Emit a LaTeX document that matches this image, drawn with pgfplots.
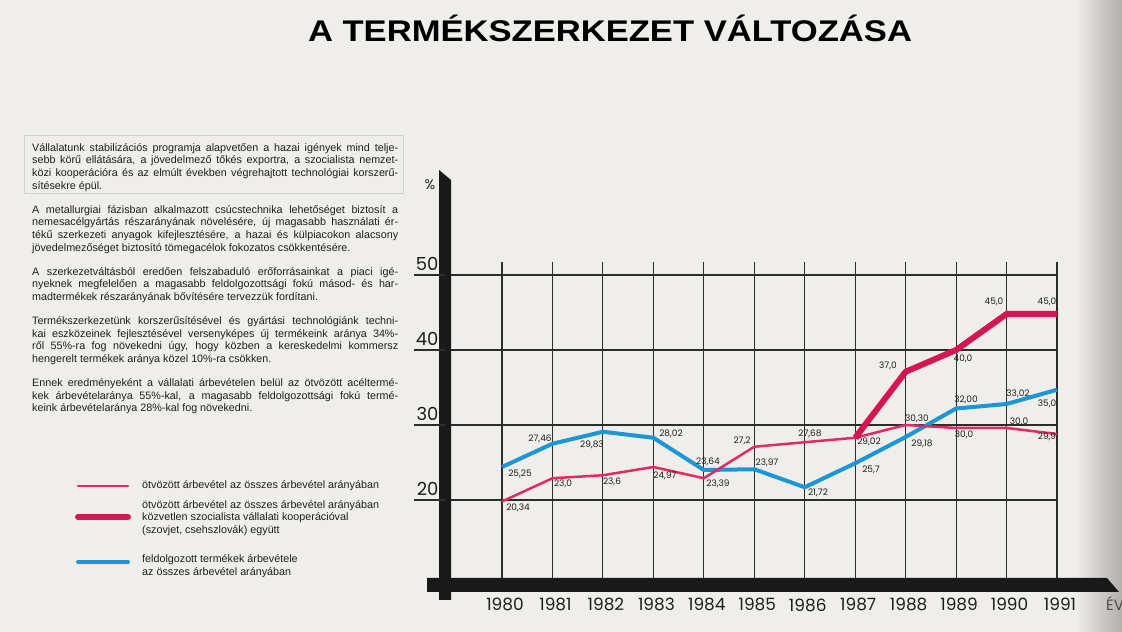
\documentclass[border=0pt]{standalone}
\usepackage{fontspec}
\setmainfont{Liberation Sans}
\newfontfamily\hand{Poppins}
\usepackage{graphicx}
\usepackage{pgfplots}
\pgfplotsset{compat=1.18}
\definecolor{paper}{RGB}{240,238,235}
\definecolor{edge}{RGB}{178,174,170}
\definecolor{ink}{RGB}{30,30,30}
\definecolor{pinkA}{RGB}{226,42,102}
\definecolor{pinkB}{RGB}{214,22,84}
\definecolor{blueA}{RGB}{28,150,212}
\definecolor{gridc}{RGB}{45,45,45}
\newcommand\jl[1]{\makebox[366bp][s]{#1}}
\newcommand\el[1]{\makebox[366bp][l]{#1}}

\pgfplotstableread{
year val
1980 19.8
1981 22.9
1982 23.3
1983 24.4
1984 22.9
1985 27.1
1986 27.7
1987 28.3
1988 30.0
1989 29.6
1990 29.6
1991 28.8
}\thinpink
\pgfplotstableread{
year val
1987 28.3
1988 37.1
1989 40.0
1990 44.8
1991 44.8
}\thickpink
\pgfplotstableread{
year val
1980 24.4
1981 27.5
1982 29.1
1983 28.3
1984 24.0
1985 24.1
1986 21.7
1987 24.9
1988 28.4
1989 32.2
1990 32.8
1991 34.7
}\blueline

\begin{document}
\begin{tikzpicture}[x=1bp,y=1bp]
\useasboundingbox (0,0) rectangle (1122,632);
\fill[paper] (0,0) rectangle (1122,632);
\shade[left color=paper,right color=edge] (1075,0) rectangle (1122,632);

% title
\node[anchor=base, inner sep=0, text=black] at (610,590)
  {\scalebox{1.157}[1]{\fontsize{30}{30}\selectfont\bfseries A TERMÉKSZERKEZET VÁLTOZÁSA}};

% text block
\draw[gray!35, line width=0.8bp] (24,497) rectangle (403,439);
\node[anchor=north west, inner sep=0, align=left, text=ink, font=\fontsize{10.8}{12.8}\selectfont] at (32,489) {%
\jl{Vállalatunk stabilizációs programja alapvetően a hazai igények mind telje-}\\
\jl{sebb körű ellátására, a jövedelmező tőkés exportra, a szocialista nemzet-}\\
\jl{közi kooperációra és az elmúlt években végrehajtott technológiai korszerű-}\\
\el{sítésekre épül.}\\[11bp]
\jl{A metallurgiai fázisban alkalmazott csúcstechnika lehetőséget biztosít a}\\
\jl{nemesacélgyártás részarányának növelésére, új magasabb használati ér-}\\
\jl{tékű szerkezeti anyagok kifejlesztésére, a hazai és külpiacokon alacsony}\\
\el{jövedelmezőséget biztosító tömegacélok fokozatos csökkentésére.}\\[11bp]
\jl{A szerkezetváltásból eredően felszabaduló erőforrásainkat a piaci igé-}\\
\jl{nyeknek megfelelően a magasabb feldolgozottsági fokú másod- és har-}\\
\el{madtermékek részarányának bővítésére tervezzük fordítani.}\\[11bp]
\jl{Termékszerkezetünk korszerűsítésével és gyártási technológiánk techni-}\\
\jl{kai eszközeinek fejlesztésével versenyképes új termékeink aránya 34\%-}\\
\jl{ről 55\%-ra fog növekedni úgy, hogy közben a kereskedelmi kommersz}\\
\el{hengerelt termékek aránya közel 10\%-ra csökken.}\\[11bp]
\jl{Ennek eredményeként a vállalati árbevételen belül az ötvözött acélter\-mé-}\\
\jl{kek árbevételaránya 55\%-kal, a magasabb feldolgozottsági fokú termé-}\\
\el{keink árbevételaránya 28\%-kal fog növekedni.}
};

% legend
\draw[pinkA, line width=2.5bp, line cap=round] (78,146) -- (128,146);
\draw[pinkB, line width=6bp, line cap=round] (78,115) -- (128,115);
\draw[blueA, line width=4bp, line cap=round] (78,70) -- (128,70);
\begin{scope}[every node/.style={anchor=west, inner sep=0, align=left, text=ink, font=\fontsize{10.8}{12.5}\selectfont}]
\node at (142,146) {ötvözött árbevétel az összes árbevétel arányában};
\node at (142,114) {ötvözött árbevétel az összes árbevétel arányában\\közvetlen szocialista vállalati kooperációval\\(szovjet, csehszlovák) együtt};
\node at (142,66) {feldolgozott termékek árbevétele\\az összes árbevétel arányában};
\end{scope}

\begin{axis}[
  at={(445bp,47bp)}, anchor=south west, scale only axis,
  width=612bp, height=323bp,
  xmin=1978.87, xmax=1991, ymin=8.667, ymax=51.733,
  axis line style={draw=none},
  tick style={draw=none},
  xtick={1980,1981,1982,1983,1984,1985,1986,1987,1988,1989,1990,1991},
  xticklabels={1980,1981,1982,1983,1984,1985,1986,1987,1988,1989,1990,1991},
  ytick={20,30,40,50},
  yticklabels={20,30,40,50},
  grid=major,
  major grid style={gridc, line width=1.1bp},
  xticklabel style={font=\hand\fontsize{17}{17}\selectfont, text=ink, anchor=north, yshift=-10bp, xshift=3bp},
  yticklabel style={font=\hand\fontsize{18}{18}\selectfont, text=ink, anchor=south east, xshift=-3bp, yshift=1bp},
  clip=false,
]
\addplot[blueA, line width=4bp, line join=round] table[x=year,y=val] {\blueline};
\addplot[pinkA, line width=2.5bp, line join=round] table[x=year,y=val] {\thinpink};
\addplot[pinkB, line width=6bp, line join=round] table[x=year,y=val] {\thickpink};
\end{axis}

% axis bars
\fill[black!90] (427,54) -- (1107,54) -- (1119,40) -- (427,40) -- cycle;
\fill[black!90] (439,32) -- (451,32) -- (451,452) -- (439,462) -- cycle;
% tick underline extensions
\foreach \yy in {132,207,282,357} \draw[gridc, line width=1.1bp] (414,\yy) -- (445,\yy);

\node[text=ink, font=\hand\fontsize{14}{14}\selectfont] at (430,447) {\%};
\node[text=ink!80, font=\hand\fontsize{15}{15}\selectfont] at (1115,28) {ÉV};

% data labels
\begin{scope}[every node/.style={text=ink, inner sep=0, font=\hand\fontsize{9}{9}\selectfont}]
\node at (520,158) {25,25};
\node at (518,124) {20,34};
\node at (540,193) {27,46};
\node at (563,148) {23,0};
\node at (592,187) {29,83};
\node at (612,150) {23,6};
\node at (671,198) {28,02};
\node at (665,156) {24,97};
\node at (708,170) {23,64};
\node at (718,148) {23,39};
\node at (742,191) {27,2};
\node at (767,169) {23,97};
\node at (810,198) {27,68};
\node at (818,139) {21,72};
\node at (869,190) {29,02};
\node at (871,162) {25,7};
\node at (888,266) {37,0};
\node at (917,213) {30,30};
\node at (922,188) {29,18};
\node at (963,273) {40,0};
\node at (966,232) {32,00};
\node at (964,197) {30,0};
\node at (994,330) {45,0};
\node at (1018,238) {33,02};
\node at (1019,210) {30,0};
\node at (1047,330) {45,0};
\node at (1047,228) {35,0};
\node at (1047,195) {29,9};
\end{scope}
\end{tikzpicture}
\end{document}
